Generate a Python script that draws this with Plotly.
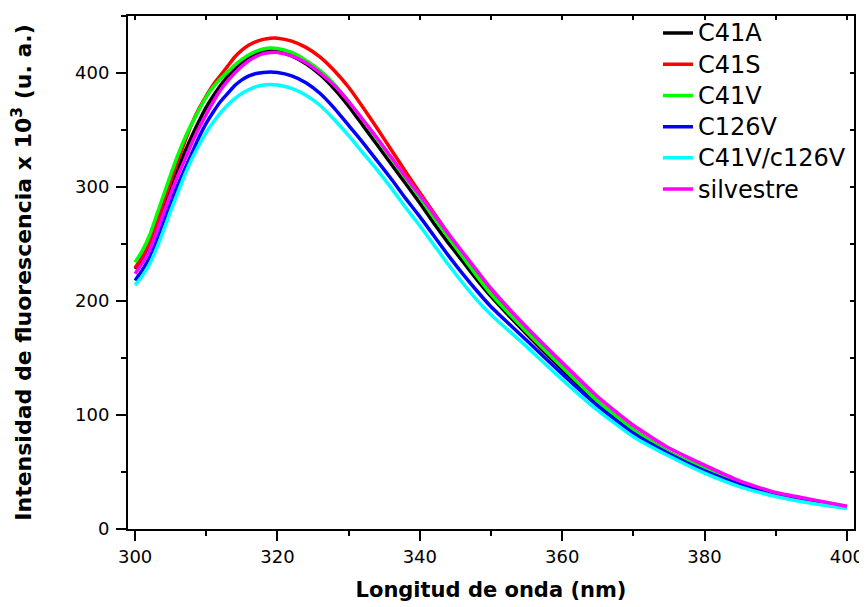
import plotly.graph_objects as go

wavelength = [300, 301, 302, 303, 304, 305, 306, 307, 308, 309, 310, 311, 312, 313, 314, 315,
              316, 317, 318, 319, 320, 322, 324, 326, 328, 330, 332, 334, 336, 338, 340, 342,
              344, 346, 348, 350, 355, 360, 365, 370, 375, 380, 385, 390, 395, 400]

c41a = [228, 237, 249, 266, 284, 301, 316, 331, 345, 358, 370, 380, 389, 397, 403, 409,
        413.5, 416.5, 418.5, 419.4, 419, 415, 408, 398.5, 386, 371, 354, 337, 320, 303, 286, 268,
        251, 235, 219, 204, 171, 140, 111, 87, 67, 53, 40, 31, 24.5, 19.5]
c41s = [229, 239, 251, 268, 287, 305, 323, 340, 356, 369, 380, 390, 398, 406, 414, 420,
        424.5, 427.5, 429.5, 430.5, 430.5, 428, 422.5, 414, 402, 387.5, 370, 351.5, 332.5, 313.5, 295, 277,
        259, 241, 224, 208, 173, 142, 112, 87, 67, 52, 39, 30.5, 24, 19.5]
c41v = [234, 244, 257, 275, 293, 311, 328, 343, 356, 368, 379, 388, 395, 401, 407, 412,
        416, 419, 421, 422, 421.5, 418, 411, 402, 390, 375, 359, 342, 325, 308, 291, 273,
        256, 239, 222, 206, 173, 142, 112, 87, 67, 53, 40, 31, 24.5, 19.5]
c126v = [218, 227, 238, 253, 270, 287, 302, 316, 330, 344, 356, 366, 375, 382, 389, 394,
         397.5, 399.5, 400.5, 400.8, 400.5, 397.5, 391.5, 382, 369, 354, 339, 323, 307, 290, 274, 257,
         240, 224, 209, 195, 165.5, 136, 108, 84, 66, 51, 39, 30, 24, 19]
c41v_c126v = [214, 222, 232, 246, 262, 279, 295, 311, 325, 337, 348, 357, 365, 372, 377.5, 382,
              385.5, 388, 389.5, 390, 389.5, 386.5, 380.5, 371.5, 359, 345, 330, 315, 299, 282, 266, 249,
              232, 216, 201, 188, 160, 131, 104, 81, 64, 49, 37, 28.5, 22.5, 18]
silvestre = [224, 233, 244, 260, 277, 294, 310, 324, 339, 352, 364, 375, 385, 393, 400, 406,
             411, 414.5, 417, 418, 418, 415, 409, 400, 389, 375, 359, 343, 326, 309, 293, 276,
             259, 243, 227, 211, 177, 146, 116, 91, 71, 56, 42, 32, 26, 20]

series_names = ["C41A", "C41S", "C41V", "C126V", "C41V/c126V", "silvestre"]
series_values = [c41a, c41s, c41v, c126v, c41v_c126v, silvestre]
series_colors = ["#000000", "#ff0000", "#00ff00", "#0000ff", "#00ffff", "#ff00ff"]

x_range = [299, 401]
y_range = [0, 450]

FONT = "'DejaVu Sans', Verdana, sans-serif"

fig = go.Figure()
for name, vals, col in zip(series_names, series_values, series_colors):
    fig.add_trace(go.Scatter(x=wavelength, y=vals, mode="lines",
                             name='<span style="font-size:24px">' + name + '</span>',
                             line=dict(color=col, width=3.5, shape="spline", smoothing=0.5)))

# invisible helper so that the mirrored frame axes (top / right) are drawn
fig.add_trace(go.Scatter(x=[x_range[0]], y=[y_range[0]], xaxis="x2", yaxis="y2",
                         mode="markers", marker=dict(opacity=0), hoverinfo="skip",
                         showlegend=False))

axis_common = dict(showline=True, linewidth=2, linecolor="black", showgrid=False,
                   zeroline=False, tickcolor="black", tickwidth=2, automargin=False)

# the page adds an 8 px body margin, so the figure is sized 8 px smaller
fig.update_layout(
    width=859, height=599,
    margin=dict(l=120, r=13, t=4, b=78),
    paper_bgcolor="white", plot_bgcolor="white",
    font=dict(family=FONT, color="black"),
    showlegend=True,
    legend=dict(x=0.730, y=1.007, xanchor="left", yanchor="top",
                font=dict(size=21.7, family=FONT), bgcolor="rgba(0,0,0,0)",
                borderwidth=0, tracegroupgap=0),
    xaxis=dict(range=x_range, tick0=300, dtick=20, ticks="outside", ticklen=10,
               tickfont=dict(size=18), title=dict(text="<b>Longitud de onda (nm)</b>",
                                                  font=dict(size=21), standoff=17),
               minor=dict(dtick=10, ticks="outside", ticklen=5, tickwidth=2, tickcolor="black",
                          showgrid=False),
               **axis_common),
    yaxis=dict(range=y_range, tick0=0, dtick=100, ticks="outside", ticklen=10,
               tickfont=dict(size=18), ticklabelstandoff=3,
               title=dict(text="<b>Intensidad de fluorescencia x 10<sup>3</sup> (u. a.)</b>",
                          font=dict(size=22), standoff=46),
               minor=dict(dtick=50, ticks="outside", ticklen=5, tickwidth=2, tickcolor="black",
                          showgrid=False),
               **axis_common),
    xaxis2=dict(range=x_range, overlaying="x", side="top", anchor="y2", tick0=300, dtick=20,
                ticks="inside", ticklen=4, showticklabels=False,
                minor=dict(dtick=10, ticks="inside", ticklen=4, tickwidth=2, tickcolor="black",
                           showgrid=False),
                **axis_common),
    yaxis2=dict(range=y_range, overlaying="y", side="right", anchor="x2", tick0=0, dtick=100,
                ticks="inside", ticklen=4, showticklabels=False,
                minor=dict(dtick=50, ticks="inside", ticklen=4, tickwidth=2, tickcolor="black",
                           showgrid=False),
                **axis_common),
)

fig.write_html("out.html")
